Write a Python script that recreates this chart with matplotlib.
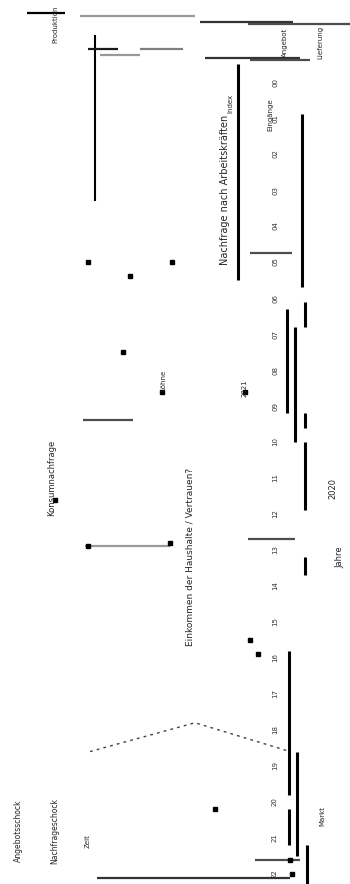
import matplotlib
matplotlib.use("Agg")
import matplotlib.pyplot as plt
import numpy as np

# time axis (runs top -> bottom), one tick per period
periods = np.arange(23)
period_labels = ["%02d" % p for p in periods]

# vertical bars: lane, start period, end period, width
bar_lane  = [95,   238,  302,  287,  295,  305,  305,  305,  305,  289,  297,  289,  307]
bar_start = [-1.3, -0.5, 0.9,  6.3,  6.8,  6.1,  9.2,  10.0, 13.2, 15.8, 18.6, 20.2, 21.2]
bar_end   = [3.3,  5.5,  5.7,  9.2,  10.0, 6.8,  9.6,  11.9, 13.7, 19.8, 21.5, 21.2, 22.4]
bar_width = [1.5,  2.2,  2.2,  2.2,  2.2,  2.2,  2.2,  2.2,  2.2,  2.2,  2.2,  2.2,  2.2]

# horizontal links: period, from lane, to lane, grey level
link_period = [-1.92, -1.83, -1.67, -1.61, -0.92, -0.92, -0.75, -0.67, -0.61, 4.75, 9.39, 12.7, 12.9, 21.6, 22.1]
link_from   = [27,    80,    200,   248,   88,    140,   100,   205,   250,   250,  83,   248,  85,   255,  97]
link_to     = [65,    195,   293,   350,   118,   183,   140,   300,   310,   292,  133,  295,  170,  300,  290]
link_grey   = [0.0,   0.6,   0.2,   0.3,   0.1,   0.5,   0.6,   0.2,   0.3,   0.3,  0.3,  0.3,  0.6,  0.3,  0.2]

# dotted "tent" path
tent_lane   = [90,   195,  290]
tent_period = [18.6, 17.8, 18.6]

# small markers
mark_lane   = [88,  130, 172, 123, 162, 245, 55,  88,  170, 250, 258, 215, 290, 292]
mark_period = [5.0, 5.4, 5.0, 7.5, 8.6, 8.6, 11.6, 12.9, 12.8, 15.5, 15.9, 20.2, 21.6, 22.0]

# rotated annotations: lane, period, text, size
notes = [
    (225, 3.0,  "Nachfrage nach Arbeitskräften", 7),
    (52,  11.0, "Konsumnachfrage", 6),
    (190, 13.2, "Einkommen der Haushalte / Vertrauen?", 6.5),
    (163, 8.3,  "Löhne", 5),
    (245, 8.5,  "2021", 5),
    (333, 11.3, "2020", 6),
    (340, 13.2, "Jahre", 6),
    (18,  20.8, "Angebotsschock", 5.5),
    (55,  20.8, "Nachfrageschock", 5.5),
    (88,  21.1, "Zeit", 5),
    (270, 0.9,  "Eingänge", 5),
    (230, 0.6,  "Index", 5),
    (55,  -1.6, "Produktion", 5),
    (285, -1.1, "Angebot", 5),
    (320, -1.1, "Lieferung", 5),
    (322, 20.4, "Markt", 5),
]

fig = plt.figure(figsize=(3.5, 8.84), dpi=100)
ax = fig.add_axes([0, 0, 1, 1])
ax.set_xlim(0, 350)
ax.set_ylim(22.28, -2.28)
ax.axis("off")

for lane, t0, t1, w in zip(bar_lane, bar_start, bar_end, bar_width):
    ax.vlines(lane, t0, t1, color="black", lw=w)

for t, x0, x1, g in zip(link_period, link_from, link_to, link_grey):
    ax.hlines(t, x0, x1, color=str(g), lw=1.6)

ax.plot(tent_lane, tent_period, linestyle=(0, (2, 3)), color="0.25", lw=1)
ax.plot(mark_lane, mark_period, "s", color="black", ms=2.5)

for p, lab in zip(periods, period_labels):
    ax.text(275, p, lab, rotation=90, fontsize=5, color="0.2",
            ha="center", va="center")

for x, t, txt, fs in notes:
    ax.text(x, t, txt, rotation=90, fontsize=fs, color="0.15",
            ha="center", va="center")

fig.savefig("out.png", dpi=100, facecolor="white")
